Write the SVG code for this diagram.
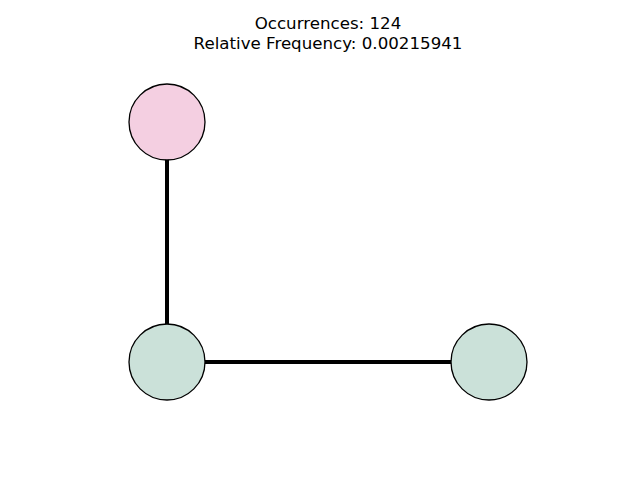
<svg xmlns="http://www.w3.org/2000/svg" width="640" height="480" viewBox="0 0 640 480">
  <style>
    .edge { stroke: #000000; stroke-width: 4; fill: none; }
    .node { stroke: #000000; stroke-width: 1.3; }
    .pink { fill: #f4cfe1; }
    .green { fill: #cbe1d9; }
    .title { font-family: "DejaVu Sans", sans-serif; font-size: 16.67px; fill: #000000; text-anchor: middle; }
  </style>
  <rect width="640" height="480" fill="#ffffff"/>
  <g id="title">
    <text class="title" x="328" y="29">Occurrences: 124</text>
    <text class="title" x="328" y="49">Relative Frequency: 0.00215941</text>
  </g>
  <g id="edges">
    <line class="edge" x1="167" y1="122" x2="167" y2="362"/>
    <line class="edge" x1="167" y1="362" x2="489" y2="362"/>
  </g>
  <g id="node-top">
    <circle class="node pink" cx="167" cy="122" r="38"/>
  </g>
  <g id="node-left">
    <circle class="node green" cx="167" cy="362" r="38"/>
  </g>
  <g id="node-right">
    <circle class="node green" cx="489" cy="362" r="38"/>
  </g>
</svg>
